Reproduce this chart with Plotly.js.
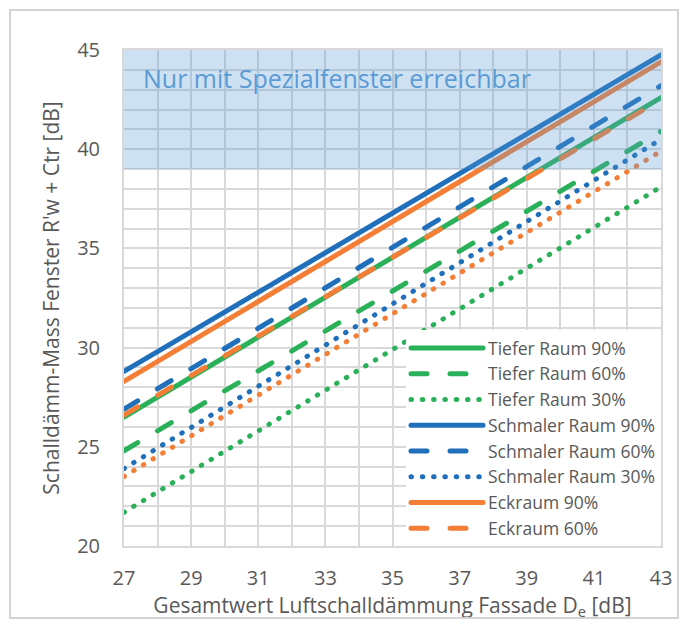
<!DOCTYPE html>
<html><head><meta charset="utf-8">
<script src="https://cdn.plot.ly/plotly-3.0.1.min.js"></script>
<style>
body{margin:0;background:#fff;}
#chart{position:absolute;left:0;top:0;width:687px;height:625px;}
#frame{position:absolute;left:9px;top:9px;width:666px;height:606px;border:2px solid #d4d4d4;pointer-events:none;}
</style>
</head><body>
<div id="chart"></div><div id="frame"></div>
<script>
// Data
const xDe = [27, 43];
const tieferRaum90 = [26.5, 42.6];
const tieferRaum60 = [24.8, 40.9];
const tieferRaum30 = [21.7, 38.1];
const schmalerRaum90 = [28.8, 44.75];
const schmalerRaum60 = [26.9, 43.2];
const schmalerRaum30 = [23.9, 40.5];
const eckraum90 = [28.3, 44.4];
const eckraum60 = [26.6, 42.5];
const eckraum30 = [23.5, 39.9];

const seriesNames = ['Tiefer Raum 90%','Tiefer Raum 60%','Tiefer Raum 30%','Schmaler Raum 90%','Schmaler Raum 60%','Schmaler Raum 30%','Eckraum 90%','Eckraum 60%','Eckraum 30%'];
const seriesValues = [tieferRaum90,tieferRaum60,tieferRaum30,schmalerRaum90,schmalerRaum60,schmalerRaum30,eckraum90,eckraum60,eckraum30];

const GREEN='#2BB05A', BLUE='#1F6FBA', ORANGE='#F47E36';
const colors=[GREEN,GREEN,GREEN,BLUE,BLUE,BLUE,ORANGE,ORANGE,ORANGE];
const DASH='16px,23px', DOT='0.5px,10.8px';
const dashes=['solid',DASH,DOT,'solid',DASH,DOT,'solid',DASH,DOT];

const traces = seriesNames.map((n,i)=>({
  type:'scatter', mode:'lines', name:n, x:xDe, y:seriesValues[i],
  line:{color:colors[i], width:5, dash:dashes[i]},
  showlegend: i<8
}));

const GRID='#d9d9d9';
const layout = {
  width:687, height:625,
  margin:{l:124,r:26,t:50,b:79},
  paper_bgcolor:'#fff', plot_bgcolor:'#fff',
  font:{family:'Open Sans, sans-serif', color:'#595959'},
  showlegend:true,
  xaxis:{range:[27,43], tick0:27, dtick:2, showgrid:true, gridcolor:GRID, gridwidth:2,
    minor:{tick0:27, dtick:1, showgrid:true, gridcolor:GRID, gridwidth:2},
    showline:true, linecolor:GRID, linewidth:2, mirror:true, zeroline:false, ticks:'',
    tickfont:{size:20, color:'#595959'}, ticklabelstandoff:13,
    title:{text:'Gesamtwert Luftschalldämmung Fassade D<sub>e</sub> [dB]', font:{size:21, color:'#595959'}, standoff:6}},
  yaxis:{range:[20,45], tick0:20, dtick:5, showgrid:true, gridcolor:GRID, gridwidth:2,
    minor:{tick0:20, dtick:1, showgrid:true, gridcolor:GRID, gridwidth:2},
    showline:true, linecolor:GRID, linewidth:2, mirror:true, zeroline:false, ticks:'',
    tickfont:{size:20, color:'#595959'}, ticklabelstandoff:18,
    title:{text:"Schalldämm-Mass Fenster R'w + Ctr [dB]", font:{size:21, color:'#595959'}, standoff:12}},
  legend:{x:1, xanchor:'right', y:0, yanchor:'bottom', bgcolor:'#fff', borderwidth:0,
    font:{size:17.5, color:'#595959'}, itemwidth:72, tracegroupgap:0},
  shapes:[{type:'rect', xref:'x', yref:'y', x0:27, x1:43, y0:39, y1:45,
    fillcolor:'rgba(91,155,213,0.3)', line:{width:0}, layer:'above'}],
  annotations:[{text:'Nur mit Spezialfenster erreichbar', xref:'x', yref:'y', x:27.5, y:43.6,
    xanchor:'left', yanchor:'middle', showarrow:false, font:{size:25, color:'#5B9BD5'}}]
};

Plotly.newPlot('chart', traces, layout, {staticPlot:true}).then(function(gd){
  gd.querySelectorAll('.scatterlayer .js-line').forEach(function(p){ p.style.strokeLinecap='round'; });
  gd.querySelectorAll('.legendlines path').forEach(function(p){ p.setAttribute('d','M5,0h72'); p.style.strokeLinecap='round'; });
});
</script>
</body></html>
